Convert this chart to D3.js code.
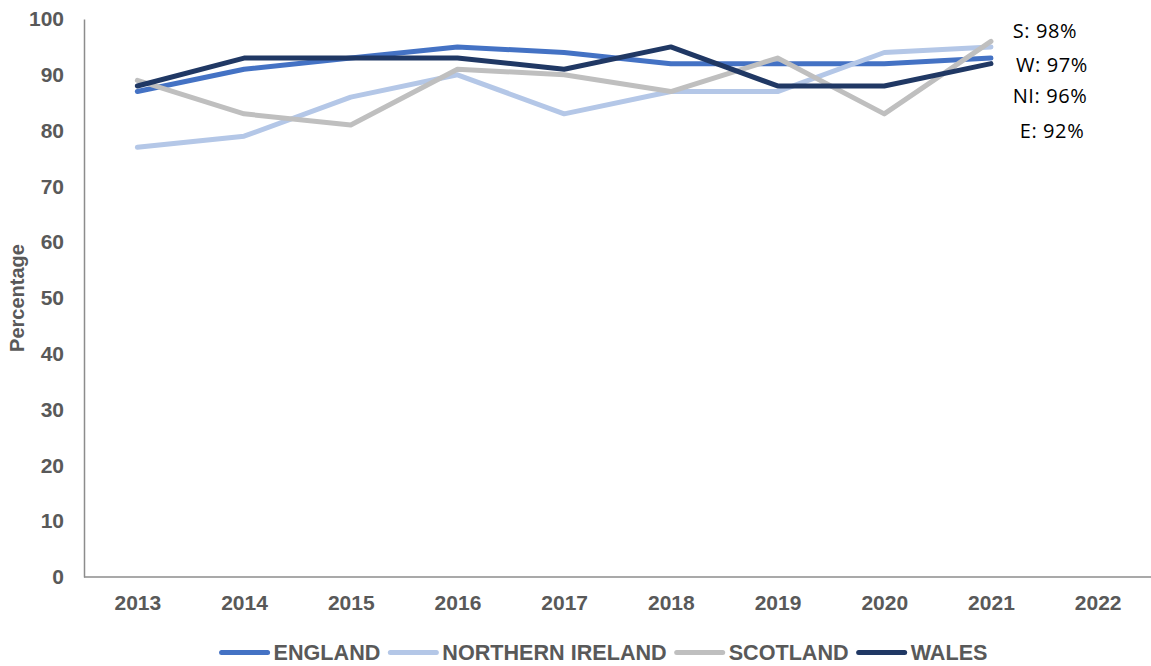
<!DOCTYPE html>
<html>
<head>
<meta charset="utf-8">
<script src="https://cdn.jsdelivr.net/npm/d3@7"></script>
<style>
  html, body { margin: 0; padding: 0; background: #ffffff; }
  svg { display: block; }
</style>
</head>
<body>
<svg id="chart" width="1151" height="666"></svg>
<script>
// ---- data ----
const years = ["2013","2014","2015","2016","2017","2018","2019","2020","2021","2022"];
const yTicks = [0,10,20,30,40,50,60,70,80,90,100];
const england         = [87, 91, 93, 95, 94, 92, 92, 92, 93];
const northernIreland = [77, 79, 86, 90, 83, 87, 87, 94, 95];
const scotland        = [89, 83, 81, 91, 90, 87, 93, 83, 96];
const wales           = [88, 93, 93, 93, 91, 95, 88, 88, 92];
const seriesNames  = ["ENGLAND", "NORTHERN IRELAND", "SCOTLAND", "WALES"];
const seriesColors = ["#4472C4", "#B4C7E7", "#BFBFBF", "#203864"];
const annotations  = ["S: 98%", "W: 97%", "NI: 96%", "E: 92%"];

const seriesValues = [england, northernIreland, scotland, wales];

(function () {
  // ---- layout ----
  const svg = d3.select("#chart");
  const mLeft = 84, mRight = 1151, mTop = 19, mBottom = 577;

  const x = d3.scalePoint().domain(years).range([mLeft, mRight]).padding(0.5);
  const y = d3.scaleLinear().domain([0, 100]).range([mBottom, mTop]);

  const tickColor = "#595959";
  const axisColor = "#8c8c8c";
  const fontFam = "'Liberation Sans', Arial, sans-serif";

  // y axis
  const yAxis = svg.append("g")
    .attr("transform", `translate(${mLeft},0)`)
    .call(d3.axisLeft(y).tickValues(yTicks).tickSize(0).tickPadding(20));
  yAxis.select(".domain").attr("stroke", axisColor).attr("stroke-width", 1.5);
  yAxis.selectAll("text")
    .attr("fill", tickColor)
    .style("font-family", fontFam)
    .style("font-weight", "bold")
    .style("font-size", "21px");

  // x axis
  const xAxis = svg.append("g")
    .attr("transform", `translate(0,${mBottom})`)
    .call(d3.axisBottom(x).tickSize(0).tickPadding(18));
  xAxis.select(".domain")
    .attr("stroke", axisColor).attr("stroke-width", 1.5)
    .attr("d", `M${mLeft},0H${mRight}`);
  xAxis.selectAll("text")
    .attr("fill", tickColor)
    .style("font-family", fontFam)
    .style("font-weight", "bold")
    .style("font-size", "21px");

  // y title
  svg.append("text")
    .attr("transform", `translate(24,298) rotate(-90)`)
    .attr("text-anchor", "middle")
    .attr("fill", tickColor)
    .style("font-family", fontFam)
    .style("font-weight", "bold")
    .style("font-size", "20px")
    .text("Percentage");

  // lines
  const line = d3.line()
    .x((d, i) => x(years[i]))
    .y(d => y(d));

  seriesValues.forEach((vals, k) => {
    svg.append("path")
      .datum(vals)
      .attr("fill", "none")
      .attr("stroke", seriesColors[k])
      .attr("stroke-width", 5)
      .attr("stroke-linejoin", "round")
      .attr("stroke-linecap", "round")
      .attr("d", line);
  });

  // annotations
  const annX = [1045, 1052, 1050, 1052];
  const annY = [38, 72, 103, 138];
  annotations.forEach((t, i) => {
    svg.append("text")
      .attr("x", annX[i])
      .attr("y", annY[i])
      .attr("text-anchor", "middle")
      .attr("fill", "#000000")
      .style("font-family", "'Open Sans', 'Noto Sans', sans-serif")
      .style("font-size", "20px")
      .style("letter-spacing", "0.6px")
      .text(t);
  });

  // legend
  const legend = svg.append("g");
  let cx = 0;
  seriesNames.forEach((name, i) => {
    const g = legend.append("g");
    g.append("line")
      .attr("x1", cx + 2).attr("x2", cx + 48)
      .attr("y1", 0).attr("y2", 0)
      .attr("stroke", seriesColors[i])
      .attr("stroke-width", 5)
      .attr("stroke-linecap", "round");
    const t = g.append("text")
      .attr("x", cx + 54)
      .attr("y", 7.5)
      .attr("fill", tickColor)
      .style("font-family", fontFam)
      .style("font-weight", "bold")
      .style("font-size", "21.6px")
      .text(name);
    const w = t.node().getComputedTextLength();
    cx += 54 + w + 8;
  });
  const totalW = cx - 8;
  legend.attr("transform", `translate(${603.5 - totalW / 2},652.5)`);
})();
</script>
</body>
</html>
